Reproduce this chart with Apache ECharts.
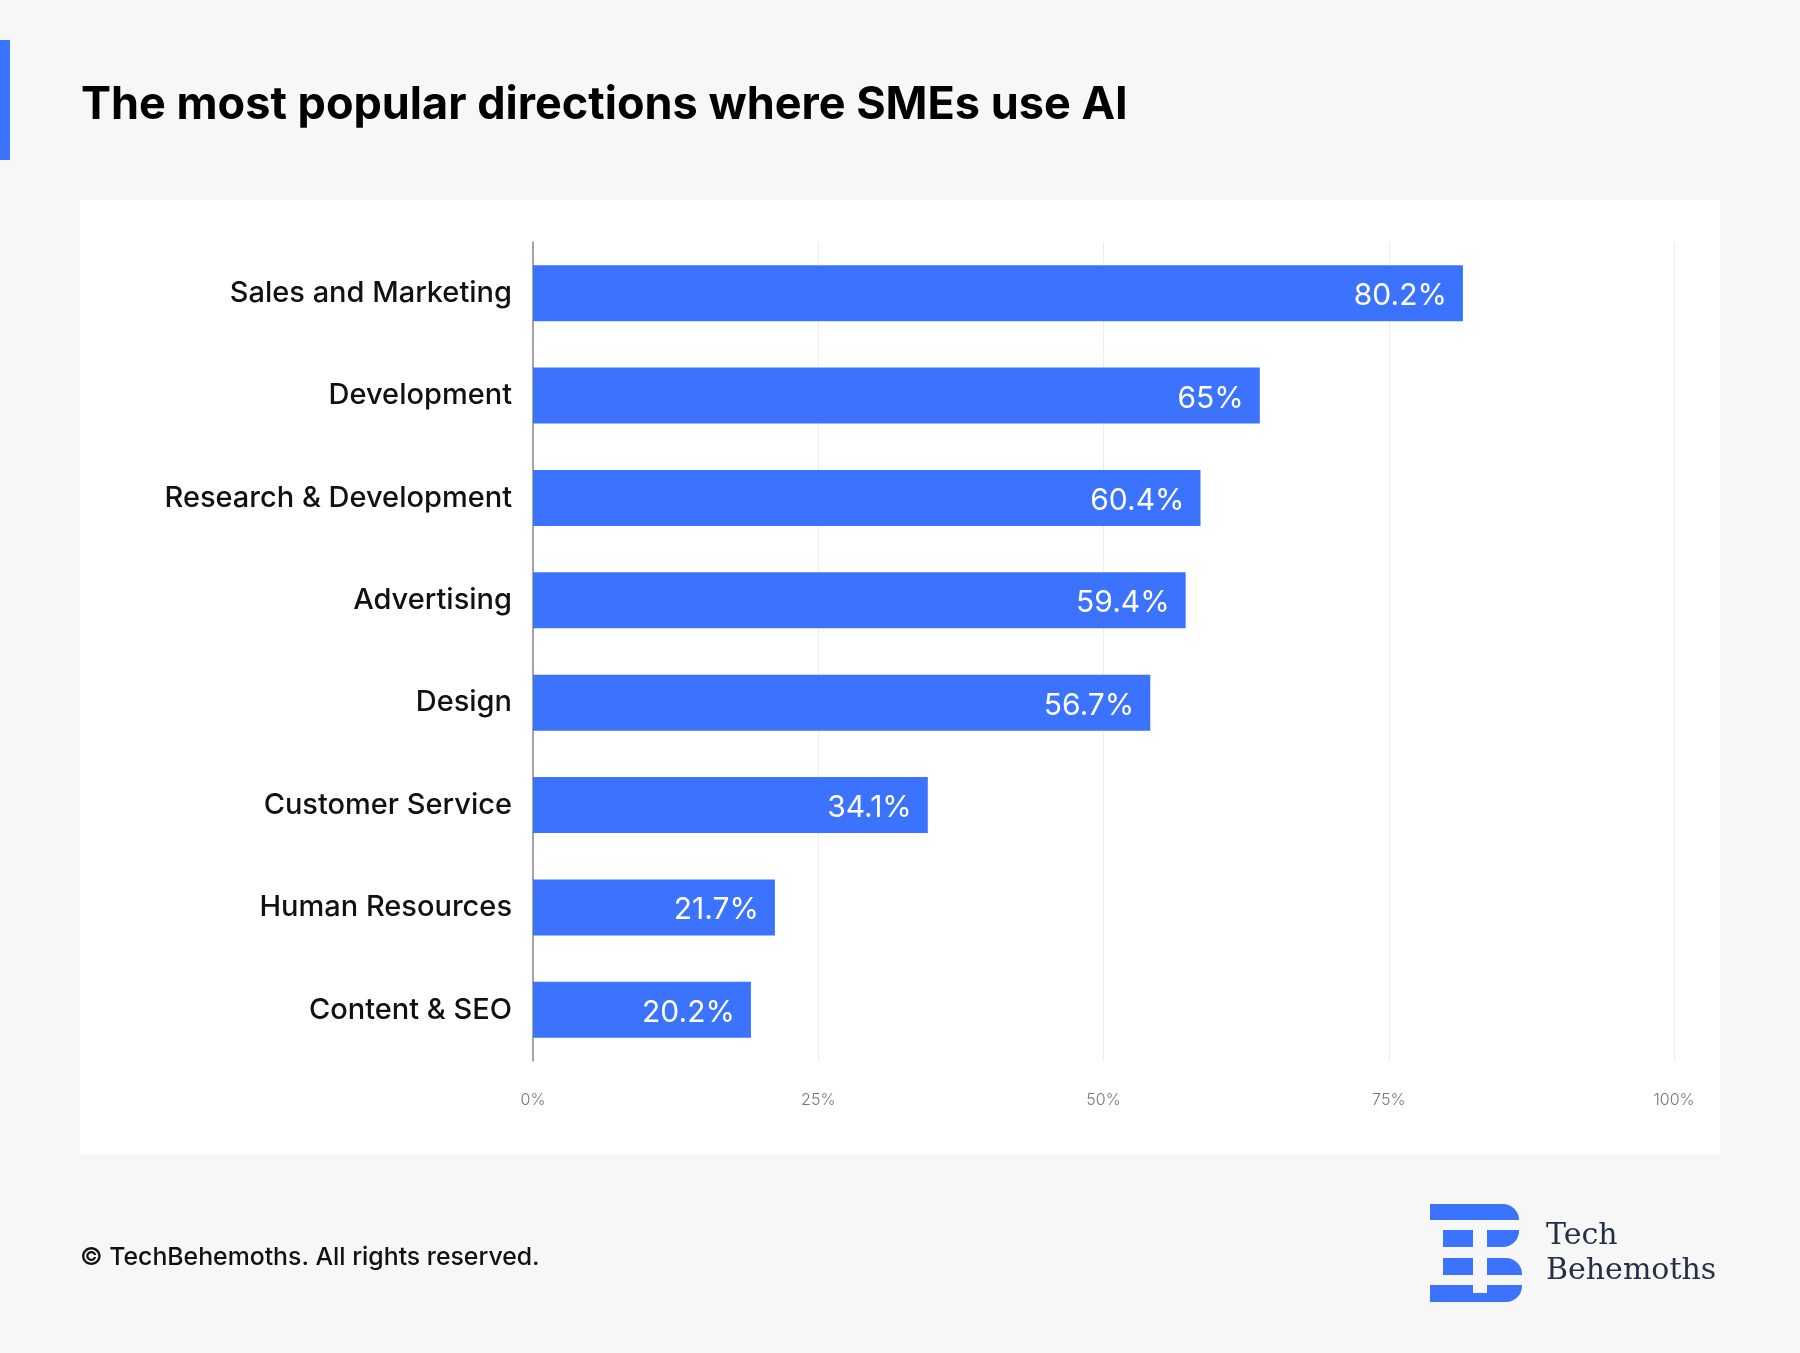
<!DOCTYPE html>
<html>
<head>
<meta charset="utf-8">
<script src="https://cdn.jsdelivr.net/npm/echarts@6/dist/echarts.min.js"></script>
<style>
  html, body { margin: 0; padding: 0; background: #f7f7f7; }
  #chart { width: 1800px; height: 1353px; }
</style>
</head>
<body>
<div id="chart"></div>
<script>
// ---- data ----
const categories = [
  'Sales and Marketing', 'Development', 'Research & Development', 'Advertising',
  'Design', 'Customer Service', 'Human Resources', 'Content & SEO'
];
// bar lengths as drawn in the picture (percent of axis)
const barLengths = [81.5, 63.7, 58.5, 57.2, 54.1, 34.6, 21.2, 19.1];
// values printed on the bars
const valueLabels = ['80.2%', '65%', '60.4%', '59.4%', '56.7%', '34.1%', '21.7%', '20.2%'];
const xTicks = [0, 25, 50, 75, 100];

const title = 'The most popular directions where SMEs use AI';
const footer = '\u00A9 TechBehemoths. All rights reserved.';

const BLUE = '#3b73fe';

const chart = echarts.init(document.getElementById('chart'), null, { renderer: 'canvas' });

const option = {
  backgroundColor: '#f7f7f7',
  animation: false,
  grid: { left: 533, right: 126, top: 242, height: 819, containLabel: false },
  xAxis: {
    type: 'value',
    min: xTicks[0],
    max: xTicks[xTicks.length - 1],
    interval: 25,
    axisLine: { show: false },
    axisTick: { show: false },
    splitLine: { show: true, lineStyle: { color: '#ececec', width: 1 } },
    axisLabel: {
      margin: 31,
      color: '#777',
      fontFamily: 'Inter',
      fontSize: 16,
      fontWeight: 300,
      formatter: v => v + '%'
    }
  },
  yAxis: {
    type: 'category',
    inverse: true,
    data: categories,
    axisLine: { show: true, lineStyle: { color: '#888', width: 1.5 } },
    axisTick: { show: false },
    splitLine: { show: false },
    axisLabel: {
      margin: 21,
      color: '#111',
      fontFamily: 'Inter',
      fontWeight: 500,
      fontSize: 29
    }
  },
  series: [{
    type: 'bar',
    data: barLengths,
    barWidth: 56,
    itemStyle: { color: BLUE },
    label: {
      show: true,
      position: 'insideRight',
      distance: 16,
      color: '#fff',
      fontFamily: 'Inter',
      fontWeight: 400,
      fontSize: 30,
      offset: [0, 3],
      formatter: p => valueLabels[p.dataIndex]
    }
  }],
  graphic: [
    // white card behind the plot
    { type: 'rect', z: -10, silent: true,
      shape: { x: 80, y: 200, width: 1640, height: 954 },
      style: { fill: '#ffffff' } },
    // left accent
    { type: 'rect', silent: true,
      shape: { x: 0, y: 40, width: 10, height: 120 },
      style: { fill: BLUE } },
    // title
    { type: 'text', left: 81, top: 83, silent: true,
      style: { text: title, fill: '#000', font: '700 45px Inter' } },
    // footer
    { type: 'text', left: 80, top: 1245, silent: true,
      style: { text: footer, fill: '#111', font: '500 24.8px Inter' } },
    // logo icon
    { type: 'group', left: 1430, top: 1204, silent: true, children: [
      { type: 'rect', shape: { x: 0, y: 0, width: 89, height: 16, r: [0, 16, 0, 0] }, style: { fill: BLUE } },
      { type: 'rect', shape: { x: 13, y: 26, width: 30, height: 17 }, style: { fill: BLUE } },
      { type: 'rect', shape: { x: 57, y: 26, width: 32, height: 17, r: [0, 0, 16, 0] }, style: { fill: BLUE } },
      { type: 'rect', shape: { x: 13, y: 54, width: 30, height: 17 }, style: { fill: BLUE } },
      { type: 'rect', shape: { x: 57, y: 54, width: 35, height: 17, r: [0, 16, 0, 0] }, style: { fill: BLUE } },
      { type: 'rect', shape: { x: 0, y: 81, width: 92, height: 17, r: [0, 0, 16, 0] }, style: { fill: BLUE } },
      { type: 'rect', shape: { x: 43, y: 81, width: 14, height: 8 }, style: { fill: '#f7f7f7' } }
    ]},
    // logo text
    { type: 'text', left: 1546, top: 1221, silent: true,
      style: { text: 'Tech', fill: '#253047', font: '400 30px "DejaVu Serif"' } },
    { type: 'text', left: 1546, top: 1256, silent: true,
      style: { text: 'Behemoths', fill: '#253047', font: '400 30px "DejaVu Serif"' } }
  ]
};

chart.setOption(option);
</script>
</body>
</html>
